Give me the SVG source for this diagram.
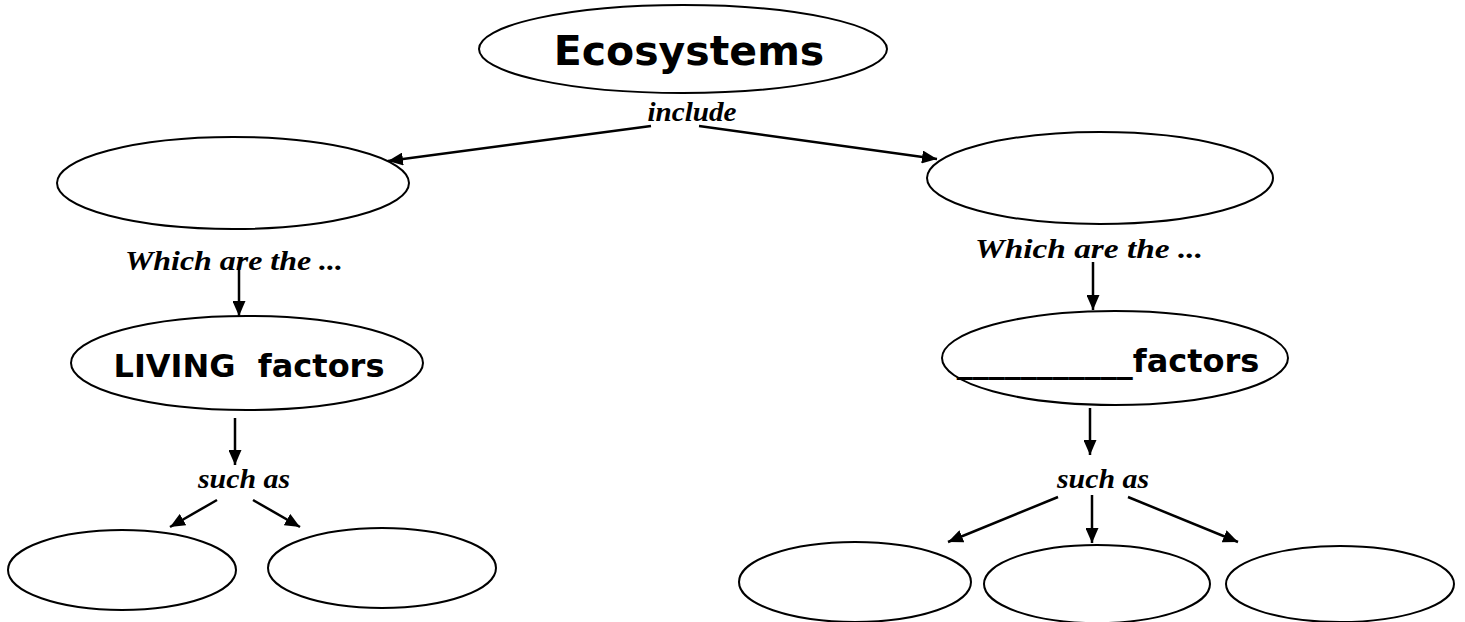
<svg xmlns="http://www.w3.org/2000/svg" width="1465" height="622" viewBox="0 0 1465 622">
<style>
.node{fill:#fff;stroke:#000;stroke-width:2}
.title{font-family:"DejaVu Sans",Verdana,sans-serif;font-weight:bold;fill:#000;text-anchor:middle}
.lbl{font-family:"Liberation Serif","Times New Roman",serif;font-weight:bold;font-style:italic;fill:#000;text-anchor:middle}
.arr{stroke:#000;stroke-width:2.5;fill:none;marker-end:url(#ah)}
</style>
<defs>
<marker id="ah" markerUnits="userSpaceOnUse" markerWidth="15" markerHeight="13" refX="15" refY="6.5" orient="auto">
<path d="M0,0 L15,6.5 L0,13 z" fill="#000"/>
</marker>
</defs>
<rect width="1465" height="622" fill="#fff"/>
<g id="connectors">
<line class="arr" x1="651" y1="126" x2="388" y2="161"/>
<line class="arr" x1="699" y1="126" x2="937" y2="159"/>
<line class="arr" x1="239" y1="270" x2="239" y2="316"/>
<line class="arr" x1="1093" y1="262" x2="1093" y2="310"/>
<line class="arr" x1="235" y1="418" x2="235" y2="465"/>
<line class="arr" x1="217" y1="500" x2="170" y2="527"/>
<line class="arr" x1="253" y1="500" x2="300" y2="527"/>
<line class="arr" x1="1090" y1="408" x2="1090" y2="455"/>
<line class="arr" x1="1058" y1="497" x2="948" y2="542"/>
<line class="arr" x1="1092" y1="495" x2="1092" y2="543"/>
<line class="arr" x1="1128" y1="497" x2="1238" y2="542"/>
<text class="lbl" x="692" y="121" font-size="27" textLength="89" lengthAdjust="spacingAndGlyphs">include</text>
<text class="lbl" x="234" y="270" font-size="27" textLength="218" lengthAdjust="spacingAndGlyphs">Which are the ...</text>
<text class="lbl" x="1089" y="258" font-size="27" textLength="228" lengthAdjust="spacingAndGlyphs">Which are the ...</text>
<text class="lbl" x="244" y="488" font-size="27" textLength="92" lengthAdjust="spacingAndGlyphs">such as</text>
<text class="lbl" x="1103" y="488" font-size="27" textLength="92" lengthAdjust="spacingAndGlyphs">such as</text>
</g>
<g id="ecosystems">
<ellipse class="node" cx="683" cy="49" rx="204" ry="44"/>
<text class="title" x="689" y="65" font-size="41">Ecosystems</text>
</g>
<g id="n-left">
<ellipse class="node" cx="233" cy="183" rx="176" ry="46"/>
</g>
<g id="n-right">
<ellipse class="node" cx="1100" cy="178" rx="173" ry="46"/>
</g>
<g id="living">
<ellipse class="node" cx="247" cy="363" rx="176" ry="47"/>
<text class="title" x="249" y="377" font-size="32" xml:space="preserve">LIVING  factors</text>
</g>
<g id="blank-factors">
<ellipse class="node" cx="1115" cy="358" rx="173" ry="47"/>
<text class="title" x="1108" y="372" font-size="32">___________factors</text>
</g>
<g id="l1"><ellipse class="node" cx="122" cy="570" rx="114" ry="40"/></g>
<g id="l2"><ellipse class="node" cx="382" cy="568" rx="114" ry="40"/></g>
<g id="r1"><ellipse class="node" cx="855" cy="582" rx="116" ry="40"/></g>
<g id="r2"><ellipse class="node" cx="1097" cy="584" rx="113" ry="39"/></g>
<g id="r3"><ellipse class="node" cx="1340" cy="584" rx="114" ry="38"/></g>
</svg>
